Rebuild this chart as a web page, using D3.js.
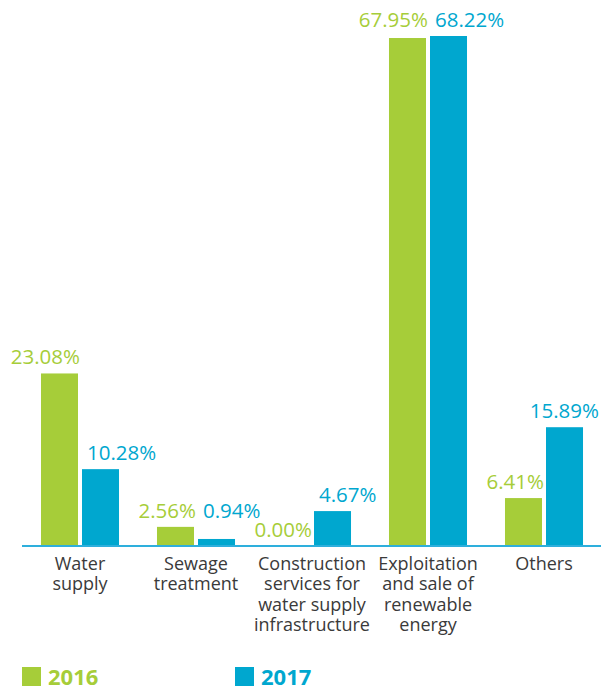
<!DOCTYPE html>
<html>
<head>
<meta charset="utf-8">
<script src="https://cdn.jsdelivr.net/npm/d3@7"></script>
<style>
  html, body { margin: 0; padding: 0; background: #fff; }
  svg { display: block; }
  text { font-family: "Open Sans", "Noto Sans", sans-serif; }
</style>
</head>
<body>
<svg id="chart" width="601" height="689"></svg>
<script>
// Revenue share by business line, per year (%)
const categories = [
  ["Water", "supply"],
  ["Sewage", "treatment"],
  ["Construction", "services for", "water supply", "infrastructure"],
  ["Exploitation", "and sale of", "renewable", "energy"],
  ["Others"]
];
const seriesNames = ["2016", "2017"];
const values2016 = [23.08, 2.56, 0.00, 67.95, 6.41];
const values2017 = [10.28, 0.94, 4.67, 68.22, 15.89];
const colors = ["#a6cd39", "#00a7cf"];

const W = 601, H = 689;
const svg = d3.select("#chart");

const data = categories.map((c, i) => ({
  key: i,
  lines: c,
  vals: [values2016[i], values2017[i]]
}));

// Category bands across the plot, bars inside each band
const x0 = d3.scaleBand()
  .domain(data.map(d => d.key))
  .range([22, 602])
  .padding(0);

const x1 = d3.scaleBand()
  .domain(seriesNames)
  .range([0, x0.bandwidth()])
  .paddingInner(4 / 41)
  .paddingOuter(0.463);

const y = d3.scaleLinear()
  .domain([0, d3.max([...values2016, ...values2017])])
  .range([546, 36]);

const groups = svg.append("g").selectAll("g")
  .data(data)
  .join("g")
  .attr("transform", d => `translate(${x0(d.key)},0)`);

groups.selectAll("rect")
  .data(d => d.vals.map((v, s) => ({ v, s })))
  .join("rect")
  .attr("x", d => x1(seriesNames[d.s]))
  .attr("width", x1.bandwidth())
  .attr("y", d => y(d.v))
  .attr("height", d => y(0) - y(d.v))
  .attr("fill", d => colors[d.s]);

// Value labels: 2016 hugs the right edge of its bar, 2017 starts just inside its bar
const fmt = v => v.toFixed(2) + "%";
groups.each(function (d) {
  const g = d3.select(this);
  const gx = x0(d.key);
  let base = d.vals.map(v => y(v) - 9);
  if (Math.abs(base[0] - base[1]) < 14) {
    const m = Math.min(base[0], base[1]);
    base = [m, m];
  }
  // 2016 label
  g.append("text")
    .attr("x", x1(seriesNames[0]) + x1.bandwidth() + 2)
    .attr("y", base[0])
    .attr("text-anchor", "end")
    .attr("font-size", 20.5)
    .attr("fill", colors[0])
    .text(fmt(d.vals[0]));
  // 2017 label, kept inside the right edge of the chart
  const t = g.append("text")
    .attr("x", x1(seriesNames[1]) + 5)
    .attr("y", base[1])
    .attr("text-anchor", "start")
    .attr("font-size", 20.5)
    .attr("fill", colors[1])
    .text(fmt(d.vals[1]));
  const len = t.node().getComputedTextLength();
  const startAbs = gx + x1(seriesNames[1]) + 5;
  if (startAbs + len > W - 2) t.attr("x", W - 2 - len - gx);
});

// Baseline
svg.append("line")
  .attr("x1", 22).attr("x2", W)
  .attr("y1", y(0)).attr("y2", y(0))
  .attr("stroke", "#2eafdc")
  .attr("stroke-width", 1.8);

// Category labels, one text per line
const lineH = 20.3;
const catRows = data.flatMap(d =>
  d.lines.map((l, i) => ({ key: d.key, text: l, row: i })));
svg.append("g").selectAll("text")
  .data(catRows)
  .join("text")
  .attr("x", d => x0(d.key) + x0.bandwidth() / 2)
  .attr("y", d => 570 + d.row * lineH)
  .attr("text-anchor", "middle")
  .attr("font-size", 18)
  .attr("fill", "#3a3a3a")
  .text(d => d.text);

// Legend
const legendX = [22, 235];
const legend = svg.append("g").selectAll("g")
  .data(seriesNames)
  .join("g")
  .attr("transform", (d, i) => `translate(${legendX[i]},667)`);
legend.append("rect")
  .attr("width", 19).attr("height", 19)
  .attr("fill", (d, i) => colors[i]);
legend.append("text")
  .attr("x", 26).attr("y", 17.5)
  .attr("font-size", 22)
  .attr("font-weight", 700)
  .attr("fill", (d, i) => colors[i])
  .text(d => d);
</script>
</body>
</html>
